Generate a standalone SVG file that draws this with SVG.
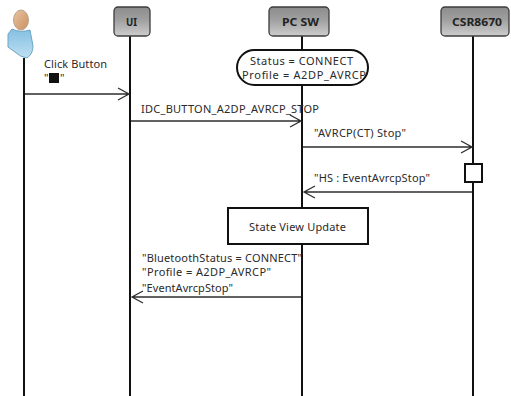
<svg xmlns="http://www.w3.org/2000/svg" width="511" height="396" viewBox="0 0 511 396">
<style>
text{font-family:"Noto Sans","Liberation Sans",sans-serif;font-size:11px;fill:#2a2a2a}
.life{stroke:#111;stroke-width:2;fill:none}
.msg{stroke:#2e2e2e;stroke-width:1.3;fill:none}
.hdr{fill:url(#g);stroke:#3c3c3c;stroke-width:1.3}
.t{font-weight:700;font-size:11px;fill:#222}
.box{fill:#fff;stroke:#111;stroke-width:2}
</style>
<defs>
<linearGradient id="g" x1="0" y1="0" x2="0" y2="1"><stop offset="0" stop-color="#8c8c8c"/><stop offset="0.45" stop-color="#a0a0a0"/><stop offset="1" stop-color="#cdcdcd"/></linearGradient>
<linearGradient id="b" x1="0" y1="0" x2="0" y2="1"><stop offset="0" stop-color="#83bfe2"/><stop offset="1" stop-color="#bfe0f1"/></linearGradient>
<linearGradient id="h" x1="0" y1="0" x2="1" y2="1"><stop offset="0" stop-color="#e9c4a0"/><stop offset="1" stop-color="#c98f60"/></linearGradient>
</defs>
<rect width="511" height="396" fill="#fff"/>
<g id="connectors">
<path class="life" d="M24 58V396M130 36V396M302 36V396M473 36V396"/>
<path class="msg" d="M25 94H129M118 88L129 94L118 100"/>
<path class="msg" d="M131 121H301M290 115L301 121L290 127"/>
<path class="msg" d="M303 147H472M461 141L472 147L461 153"/>
<path class="msg" d="M472 192H304M315 186L304 192L315 198"/>
<path class="msg" d="M301 297H132M143 291L132 297L143 303"/>
</g>
<g id="actor">
<ellipse cx="21" cy="20" rx="7.5" ry="10" fill="url(#h)" stroke="#b9a58f"/>
<path d="M12 29Q20 33 30 30L33 46Q33 54 27 58Q20 57 15 52L8 47V34Z" fill="url(#b)" stroke="#6fa5c4"/>
</g>
<g id="ui"><rect class="hdr" x="114" y="7" width="36" height="29" rx="4"/><text class="t" x="126" y="26" textLength="11" lengthAdjust="spacingAndGlyphs">UI</text></g>
<g id="pcsw"><rect class="hdr" x="269" y="7" width="60" height="29" rx="4"/><text class="t" x="282" y="26" textLength="37" lengthAdjust="spacingAndGlyphs">PC SW</text></g>
<g id="csr"><rect class="hdr" x="441" y="7" width="68" height="29" rx="4"/><text class="t" x="452" y="26" textLength="50" lengthAdjust="spacingAndGlyphs">CSR8670</text></g>
<g id="status">
<rect x="237" y="50" width="131" height="35" rx="17.5" fill="#fff" stroke="#111" stroke-width="2"/>
<text x="250" y="65" textLength="103">Status = CONNECT</text>
<text x="242" y="79" textLength="124">Profile = A2DP_AVRCP</text>
</g>
<g id="activation"><rect class="box" x="465" y="164" width="17" height="18"/></g>
<g id="stateview"><rect class="box" x="228" y="208" width="140" height="36"/><text x="249" y="231" textLength="97">State View Update</text></g>
<g id="labels">
<text x="44" y="68" textLength="63">Click Button</text>
<text x="44" y="82">"</text><rect x="49" y="73" width="10" height="10" fill="#111"/><text x="60" y="82">"</text>
<text x="141" y="113" textLength="178">IDC_BUTTON_A2DP_AVRCP_STOP</text>
<text x="314" y="137" textLength="92">"AVRCP(CT) Stop"</text>
<text x="314" y="182" textLength="116">"HS : EventAvrcpStop"</text>
<text x="142" y="262" textLength="160">"BluetoothStatus = CONNECT"</text>
<text x="142" y="276" textLength="129">"Profile = A2DP_AVRCP"</text>
<text x="142" y="292" textLength="91">"EventAvrcpStop"</text>
</g>
</svg>
